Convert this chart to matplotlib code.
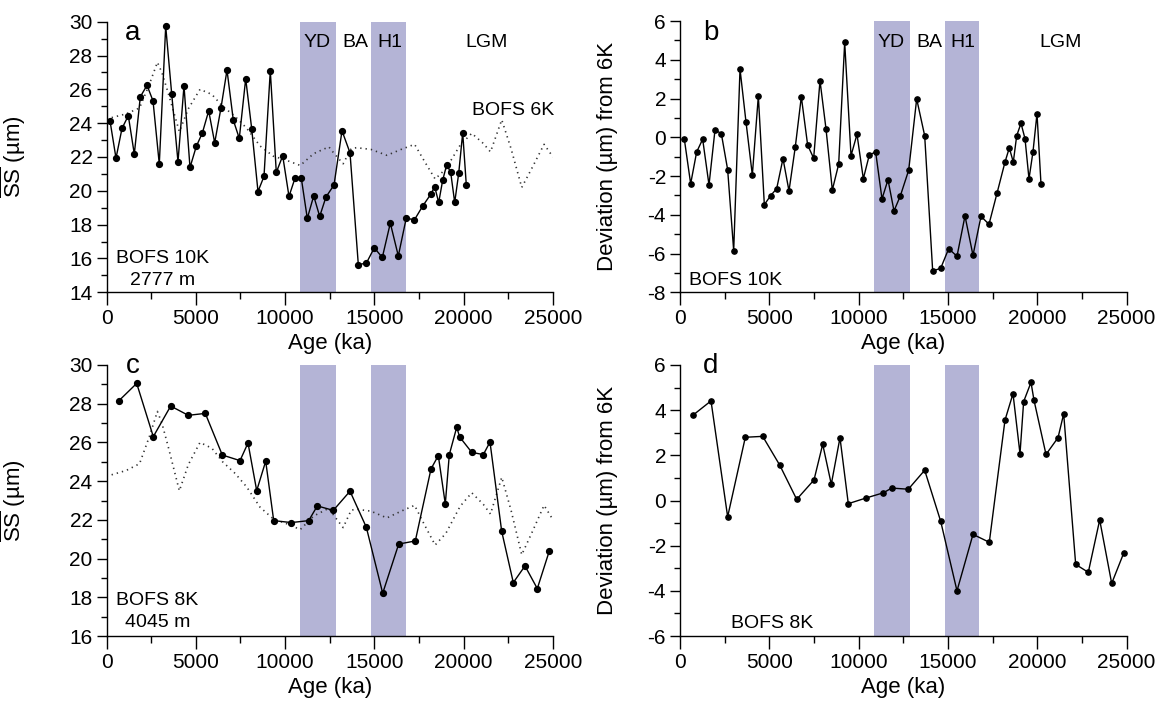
import matplotlib
matplotlib.use('Agg')
import matplotlib.pyplot as plt
from matplotlib.ticker import MultipleLocator
from matplotlib.transforms import blended_transform_factory

plt.rcParams['font.family'] = ['Liberation Sans', 'DejaVu Sans']
plt.rcParams['mathtext.fontset'] = 'custom'
plt.rcParams['mathtext.rm'] = 'Liberation Sans'
plt.rcParams['axes.unicode_minus'] = False

# event windows (years)
yd = [10850, 12850]
h1 = [14830, 16750]
event_names = ['YD', 'BA', 'H1', 'LGM']
event_x = [11800, 13950, 15850, 21300]

# BOFS 10K sortable silt mean
age_10k = [196, 532, 868, 1221, 1557, 1893, 2268, 2604, 2956, 3315, 3651, 4003, 4339, 4675,
           5028, 5364, 5722, 6058, 6411, 6747, 7100, 7435, 7794, 8130, 8482, 8818, 9171, 9507,
           9866, 10218, 10554, 10907, 11243, 11601, 11937, 12290, 12738, 13186, 13634, 14099,
           14547, 14995, 15443, 15891, 16339, 16786, 17234, 17704, 18152, 18376, 18600, 18824,
           19048, 19272, 19496, 19720, 19944, 20146]
ss_10k = [24.14, 21.93, 23.69, 24.44, 22.17, 25.56, 26.24, 25.32, 21.58, 29.73, 25.72, 21.72,
          26.21, 21.38, 22.63, 23.41, 24.73, 22.84, 24.91, 27.14, 24.18, 23.10, 26.63, 23.67,
          19.96, 20.85, 27.10, 21.09, 22.07, 19.67, 20.75, 20.75, 18.37, 19.70, 18.49, 19.64,
          20.34, 23.55, 22.25, 15.64, 15.72, 16.63, 16.06, 18.09, 16.15, 18.40, 18.27, 19.10,
          19.79, 20.24, 19.31, 20.63, 21.54, 21.09, 19.31, 21.03, 23.43, 20.34]

# BOFS 10K deviation from 6K
age_10k_dev = [243, 597, 932, 1269, 1624, 1960, 2314, 2668, 3006, 3360, 3695, 4050, 4386, 4722,
               5076, 5413, 5767, 6103, 6458, 6793, 7148, 7484, 7839, 8175, 8529, 8884, 9221,
               9575, 9910, 10265, 10601, 10955, 11310, 11646, 11982, 12335, 12804, 13252, 13700,
               14148, 14596, 15044, 15509, 15957, 16405, 16853, 17301, 17749, 18197, 18438,
               18662, 18852, 19093, 19317, 19541, 19765, 19989, 20213]
dev_10k = [-0.10, -2.40, -0.76, -0.10, -2.46, 0.38, 0.19, -1.67, -5.85, 3.52, 0.79, -1.95, 2.13,
           -3.48, -3.01, -2.65, -1.10, -2.77, -0.48, 2.09, -0.41, -1.08, 2.92, 0.43, -2.72, -1.39,
           4.90, -0.95, 0.15, -2.14, -0.91, -0.76, -3.18, -2.19, -3.80, -3.03, -1.70, 1.98, 0.08,
           -6.90, -6.76, -5.75, -6.14, -4.06, -6.09, -4.08, -4.49, -2.89, -1.28, -0.55, -1.28,
           0.08, 0.72, -0.07, -2.15, -0.74, 1.22, -2.43]

# BOFS 6K reference curve (dotted)
age_6k = [0, 1100, 1850, 2400, 2850, 3100, 3450, 4080, 4580, 5235, 5900, 6500, 7200, 7850,
          8600, 9340, 10090, 10850, 11600, 12450, 12750, 13250, 13700, 14000, 14800, 15700,
          16500, 17250, 17800, 18400, 19000, 19800, 20450, 21100, 21500, 22130, 22650, 23250,
          23800, 24500, 25000]
ss_6k = [24.25, 24.55, 24.9, 26.3, 27.6, 27.0, 25.8, 23.5, 24.85, 26.0, 25.7, 25.0, 24.4, 23.7,
         22.65, 22.05, 21.8, 21.5, 22.2, 22.6, 22.2, 21.6, 22.5, 22.55, 22.45, 22.1, 22.45,
         22.75, 21.75, 20.7, 21.3, 22.7, 23.4, 22.8, 22.3, 24.2, 22.5, 20.2, 21.3, 22.75, 22.0]

# BOFS 8K sortable silt mean
age_8k = [700, 1691, 2620, 3594, 4580, 5532, 6484, 7475, 7923, 8410, 8914, 9362, 10347, 11321,
          11803, 12699, 13634, 14547, 15465, 16360, 17290, 18169, 18578, 18970, 19194, 19608,
          19776, 20448, 21097, 21472, 22127, 22777, 23432, 24121, 24793]
ss_8k = [28.16, 29.05, 26.30, 27.88, 27.40, 27.50, 25.35, 25.06, 25.97, 23.51, 25.03, 21.96,
         21.86, 21.96, 22.72, 22.49, 23.48, 21.62, 18.21, 20.75, 20.91, 24.63, 25.32, 22.82,
         25.37, 26.78, 26.28, 25.49, 25.37, 26.02, 21.41, 18.76, 19.62, 18.45, 20.39]

# BOFS 8K deviation from 6K
age_8k_dev = [745, 1736, 2668, 3658, 4630, 5582, 6534, 7503, 7990, 8471, 8958, 9423, 10414,
              11383, 11853, 12783, 13700, 14596, 15509, 16405, 17318, 18197, 18645, 19037,
              19241, 19653, 19821, 20493, 21165, 21483, 22155, 22861, 23499, 24171, 24843]
dev_8k = [3.79, 4.41, -0.72, 2.80, 2.84, 1.57, 0.05, 0.91, 2.49, 0.72, 2.78, -0.14, 0.11, 0.34,
          0.55, 0.50, 1.34, -0.92, -4.00, -1.50, -1.85, 3.56, 4.73, 2.07, 4.38, 5.23, 4.44, 2.04,
          2.78, 3.84, -2.83, -3.18, -0.86, -3.67, -2.33]

band_color = '#b4b4d6'
ss_label = r'$\overline{\mathrm{SS}}$ (µm)'
dev_label = 'Deviation (µm) from 6K'

W, H = 1166, 706
fig = plt.figure(figsize=(W / 100, H / 100), dpi=100)


def make_axes(left, top, right, bottom):
    return fig.add_axes([left / W, 1 - bottom / H, (right - left) / W, (bottom - top) / H])


def style(ax, ylim, ylabel, ylab_x):
    ax.axvspan(yd[0], yd[1], color=band_color, lw=0, zorder=0)
    ax.axvspan(h1[0], h1[1], color=band_color, lw=0, zorder=0)
    ax.set_xlim(0, 25000)
    ax.set_ylim(*ylim)
    ax.xaxis.set_major_locator(MultipleLocator(5000))
    ax.xaxis.set_minor_locator(MultipleLocator(2500))
    ax.yaxis.set_major_locator(MultipleLocator(2))
    ax.yaxis.set_minor_locator(MultipleLocator(1))
    ax.spines['top'].set_visible(False)
    ax.spines['right'].set_visible(False)
    for s in ['left', 'bottom']:
        ax.spines[s].set_linewidth(1.0)
    ax.tick_params(axis='both', which='both', direction='out', width=1.0, labelsize=15, pad=3)
    ax.tick_params(axis='x', which='major', length=9)
    ax.tick_params(axis='x', which='minor', length=5)
    ax.tick_params(axis='y', which='major', length=7)
    ax.tick_params(axis='y', which='minor', length=4)
    ax.set_xlabel('Age (ka)', fontsize=16)
    ax.xaxis.set_label_coords(0.5, -0.15)
    ax.set_ylabel(ylabel, fontsize=16)
    ax.yaxis.set_label_coords(ylab_x, 0.5)


def events(ax, y):
    tr = blended_transform_factory(ax.transData, ax.transAxes)
    for name, x in zip(event_names, event_x):
        ax.text(x, y, name, transform=tr, ha='center', va='baseline', fontsize=14)


line_kw = dict(color='black', lw=1.0, marker='o', markersize=4.2, zorder=3)
dot_kw = dict(color='#333333', lw=1.2, linestyle=(0, (0.8, 2.4)), zorder=2)

# a
ax = make_axes(106.5, 21.7, 553, 292.3)
style(ax, (14, 30), ss_label, -0.176)
ax.plot(age_6k, ss_6k, **dot_kw)
ax.plot(age_10k, ss_10k, **line_kw)
ax.text(0.041, 0.932, 'a', transform=ax.transAxes, fontsize=20, va='baseline')
events(ax, 0.906)
ax.text(22777, 24.48, 'BOFS 6K', ha='center', va='baseline', fontsize=14)
ax.text(0.125, 0.108, 'BOFS 10K', transform=ax.transAxes, ha='center', va='baseline', fontsize=14)
ax.text(0.125, 0.027, '2777 m', transform=ax.transAxes, ha='center', va='baseline', fontsize=14)

# b
ax = make_axes(680, 21, 1126.5, 292.3)
style(ax, (-8, 6), dev_label, -0.139)
ax.plot(age_10k_dev, dev_10k, **dict(line_kw, markersize=3.8))
ax.text(0.052, 0.93, 'b', transform=ax.transAxes, fontsize=20, va='baseline')
events(ax, 0.906)
ax.text(0.021, 0.027, 'BOFS 10K', transform=ax.transAxes, ha='left', va='baseline', fontsize=14)

# c
ax = make_axes(106.5, 365, 553, 636)
style(ax, (16, 30), ss_label, -0.176)
ax.plot(age_6k, ss_6k, **dot_kw)
ax.plot(age_8k, ss_8k, **line_kw)
ax.text(0.044, 0.97, 'c', transform=ax.transAxes, fontsize=20, va='baseline')
ax.text(0.114, 0.114, 'BOFS 8K', transform=ax.transAxes, ha='center', va='baseline', fontsize=14)
ax.text(0.114, 0.034, '4045 m', transform=ax.transAxes, ha='center', va='baseline', fontsize=14)

# d
ax = make_axes(680, 365, 1126.5, 636)
style(ax, (-6, 6), dev_label, -0.139)
ax.plot(age_8k_dev, dev_8k, **dict(line_kw, markersize=3.8))
ax.text(0.052, 0.97, 'd', transform=ax.transAxes, fontsize=20, va='baseline')
ax.text(0.206, 0.03, 'BOFS 8K', transform=ax.transAxes, ha='center', va='baseline', fontsize=14)

fig.savefig('out.png', dpi=100)
